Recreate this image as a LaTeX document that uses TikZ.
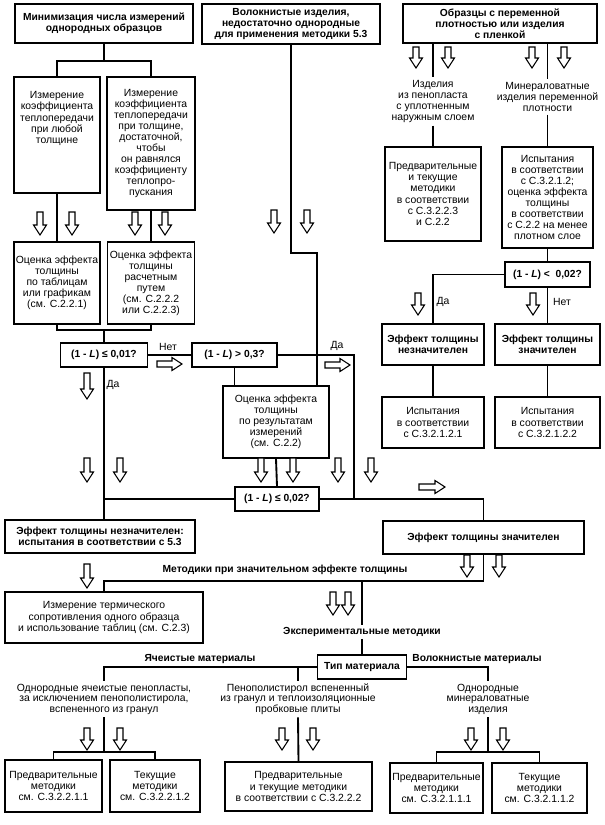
\documentclass[tikz,border=0pt]{standalone}
\usepackage{fontspec}
\setmainfont{Liberation Sans}
\newcommand\fs{\fontsize{7.8}{8.3}\selectfont}
\newcommand\fsb{\fontsize{7.8}{7.9}\selectfont}
\newcommand\fsbold{\fontsize{7.7}{8.3}\selectfont\bfseries}
\begin{document}
\begin{tikzpicture}[x=0.75pt,y=-0.75pt,line width=1.4pt,
  bx/.style={draw,line width=1.4pt,align=center,inner sep=1pt,font=\fs},
  bb/.style={bx,font=\fsbold},
  sz/.style 2 args={minimum width=#1*0.75pt,minimum height=#2*0.75pt},
  tx/.style={align=center,inner sep=1.5pt,font=\fs},
  tl/.style={align=center,inner sep=1.5pt,font=\fsb},
  lb/.style={inner sep=1pt,font=\fsbold},
  yn/.style={inner sep=1pt,font=\fs},
  hdown/.pic={\draw[line width=0.8pt,fill=white] (-3,0) -- (-3,#1-10) -- (-6.5,#1-10) -- (0,#1) -- (6.5,#1-10) -- (3,#1-10) -- (3,0) -- cycle;},
  hright/.pic={\draw[line width=0.8pt,fill=white] (0,-3) -- (#1-10,-3) -- (#1-10,-6.5) -- (#1,0) -- (#1-10,6.5) -- (#1-10,3) -- (0,3) -- cycle;}
]
\useasboundingbox (0,0) rectangle (605,825);

% top boxes
\node[bb,sz={178}{39}] (bMin) at (104,23.5) {Минимизация числа измерений\\однородных образцов};
\node[bb,sz={178}{40}] (bVol) at (291,24) {Волокнистые изделия,\\недостаточно однородные\\для применения методики 5.3};
\node[bb,sz={194}{39}] (bObr) at (500,23.5) {Образцы с переменной\\плотностью или изделия\\с пленкой};

% left column
\node[bx,sz={86}{116}] (bM1) at (57,135) {};
\node[tx] (tM1) at (57,118.5) {Измерение\\коэффициента\\теплопередачи\\при любой\\толщине};
\node[bx,sz={88}{133}] (bM2) at (151,143.5) {Измерение\\коэффициента\\теплопередачи\\при толщине,\\достаточной,\\чтобы\\он равнялся\\коэффициенту\\теплопро-\\пускания};
\node[bx,sz={86}{82}] (bO1) at (57,283) {Оценка эффекта\\толщины\\по таблицам\\или графикам\\(см. С.2.2.1)};
\node[bx,sz={87}{82}] (bO2) at (151,283) {Оценка эффекта\\толщины\\расчетным\\путем\\(см. С.2.2.2\\или С.2.2.3)};
\node[bb,sz={87}{24}] (dA) at (104,355) {(1 - \textit{L}) ≤ 0,01?};
\node[bb,sz={85}{24}] (dB) at (234.5,355) {(1 - \textit{L}) > 0,3?};
\node[bx,sz={106}{72}] (bOR) at (276,422) {Оценка эффекта\\толщины\\по результатам\\измерений\\(см. С.2.2)};
\node[bb,sz={84}{24}] (dC) at (277,499) {(1 - \textit{L}) ≤ 0,02?};
\node[bb,sz={190}{33}] (bNz) at (100,536.5) {Эффект толщины незначителен:\\испытания в соответствии с 5.3};
\node[bb,sz={201}{33}] (bZn) at (483.5,537.5) {Эффект толщины значителен};
\node[bx,sz={198}{51}] (bTerm) at (104,617.5) {Измерение термического\\сопротивления одного образца\\и использование таблиц (см. С.2.3)};

% right column
\node[tx] (tPen) at (433,101.5) {Изделия\\из пенопласта\\с уплотненным\\наружным слоем};
\node[tx] (tMin) at (547.5,97) {Минераловатные\\изделия переменной\\плотности};
\node[bx,sz={96}{94}] (bPT) at (433,194) {Предварительные\\и текущие\\методики\\в соответствии\\с С.3.2.2.3\\и С.2.2};
\node[bx,sz={91}{101}] (bIsp) at (547.5,197.5) {Испытания\\в соответствии\\с С.3.2.1.2;\\оценка эффекта\\толщины\\в соответствии\\с С.2.2 на менее\\плотном слое};
\node[bb,sz={85}{25}] (dD) at (547.5,274.5) {(1 - \textit{L}) <\ \ 0,02?};
\node[bb,sz={102}{41}] (bEn) at (433,344.5) {Эффект толщины\\незначителен};
\node[bb,sz={105}{41}] (bEz) at (547.5,344.5) {Эффект толщины\\значителен};
\node[bx,sz={102}{51}] (bIs1) at (433,422.5) {Испытания\\в соответствии\\с С.3.2.1.2.1};
\node[bx,sz={105}{51}] (bIs2) at (547.5,422.5) {Испытания\\в соответствии\\с С.3.2.1.2.2};

% lower part
\node[lb] (tMet) at (285,570) {Методики при значительном эффекте толщины};
\node[lb] (tExp) at (362,632) {Экспериментальные методики};
\node[bb,sz={89}{24}] (bTip) at (362,667) {Тип материала};
\node[lb] (tYach) at (200,659) {Ячеистые материалы};
\node[lb] (tVolm) at (477,659) {Волокнистые материалы};
\node[tl] (tOdn) at (104,699) {Однородные ячеистые пенопласты,\\за исключением пенополистирола,\\вспененного из гранул};
\node[tl] (tPps) at (298,699) {Пенополистирол вспененный\\из гранул и теплоизоляционные\\пробковые плиты};
\node[tl] (tMw) at (488,699) {Однородные\\минераловатные\\изделия};
\node[bx,sz={97}{52}] (bP1) at (53.5,786) {Предварительные\\методики\\см. С.3.2.2.1.1};
\node[bx,sz={90}{52}] (bT1) at (155,786) {Текущие\\методики\\см. С.3.2.2.1.2};
\node[bx,sz={147}{49}] (bP2) at (298.5,786.5) {Предварительные\\и текущие методики\\в соответствии с С.3.2.2.2};
\node[bx,sz={93}{50}] (bP3) at (436.5,788) {Предварительные\\методики\\см. С.3.2.1.1.1};
\node[bx,sz={95}{50}] (bT3) at (539.5,788) {Текущие\\методики\\см. С.3.2.1.1.2};

% yes/no labels
\node[yn] (lN1) at (168,347) {Нет};
\node[yn] (lD1) at (113,385) {Да};
\node[yn] (lD2) at (337,346) {Да};
\node[yn] (lD3) at (443,302) {Да};
\node[yn] (lN2) at (562,302) {Нет};

% junction coordinates
\coordinate (j1) at (104,61);
\coordinate (j2) at (104,330);
\coordinate (j3) at (104,499);
\coordinate (j4) at (354,355);
\coordinate (j5) at (354,499);
\coordinate (j6) at (291,253);
\coordinate (j7) at (317,386);
\coordinate (j9) at (104,581);
\coordinate (j10) at (362,581);
\coordinate (j11) at (298,667);
\coordinate (j12) at (104,752);
\coordinate (j13) at (488,752);

% connectors
\draw (bMin.south) -- (j1);
\draw (bM1.north) |- (j1) -| (bM2.north);
\draw (bM1.south) -- (bO1.north);
\draw (bM2.south) -- (bO2.north);
\draw (bO1.south) |- (j2) -| (bO2.south);
\draw (j2) -- (dA.north);
\draw (dA.east) -- (dB.west);
\draw (dA.south) -- (dA.south |- bNz.north);
\draw (j3) -- (dC.west);
\draw (dB.east) -- (j4) -- (j5) -| (bZn.north);
\draw (dC.east) -- (j5);
\draw (bVol.south) -- (j6) -| (j7);
\draw (dB.south) -- (dB.south |- bOR.north);
\draw (bOR.south) -- (dC.north);
\draw (bZn.south) |- (j9) -- (bTerm.north);
\draw (j10) -- (tExp.north);
\draw (tExp.south) -- (bTip.north);
\draw (bTip.west) -| (tOdn.north);
\draw (j11) -- (tPps.north);
\draw (bTip.east) -| (tMw.north);
\draw (tOdn.south) -- (j12);
\draw (bP1.north) |- (j12) -| (bT1.north);
\draw (tPps.south) -- (bP2.north);
\draw (tMw.south) -- (j13);
\draw (bP3.north) |- (j13) -| (bT3.north);
\draw (tPen.north |- bObr.south) -- (tPen.north);
\draw (tMin.north |- bObr.south) -- (tMin.north);
\draw (tPen.south) -- (bPT.north);
\draw (tMin.south) -- (bIsp.north);
\draw (bIsp.south) -- (dD.north);
\draw (dD.west) -| (bEn.north);
\draw (dD.south) -- (bEz.north);
\draw (bEn.south) -- (bIs1.north);
\draw (bEz.south) -- (bIs2.north);

% hollow arrows
\foreach \x in {40,72,135,165} \pic at (\x,212) {hdown=23};
\foreach \x in {274,307} \pic at (\x,210) {hdown=23};
\foreach \x in {416,448,532,564} \pic at (\x,47) {hdown=21};
\pic at (87,373) {hdown=26};
\foreach \x in {418,533} \pic at (\x,293) {hdown=22};
\foreach \x in {87,120,261,293,338,371} \pic at (\x,458) {hdown=24};
\pic at (87,564) {hdown=24};
\foreach \x in {467,499} \pic at (\x,555) {hdown=22};
\foreach \x in {333,348} \pic at (\x,592) {hdown=23};
\foreach \x in {87,120,282,313,471,503} \pic at (\x,728) {hdown=22};
\pic at (157,364) {hright=25};
\pic at (325,365) {hright=25};
\pic at (419,487) {hright=26};
\end{tikzpicture}
\end{document}
